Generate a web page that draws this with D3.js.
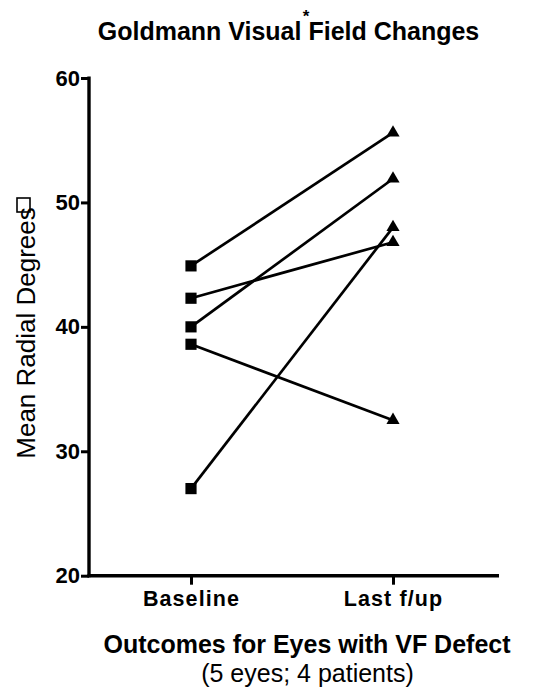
<!DOCTYPE html>
<html>
<head>
<meta charset="utf-8">
<script src="https://cdn.jsdelivr.net/npm/d3@7"></script>
<style>
  html, body { margin: 0; padding: 0; background: #fff; }
  svg text { font-family: Arial, "Liberation Sans", Helvetica, sans-serif; fill: #000; }
</style>
</head>
<body>
<svg id="chart" width="543" height="693"></svg>
<script>
// ── Data: one line per eye, baseline -> last follow-up ──────────────────────
const timepoints = ["Baseline", "Last f/up"];
const baseline   = [44.9, 42.3, 40.0, 38.6, 27.0];
const lastFollow = [55.6, 46.8, 51.9, 32.5, 48.0];
const yTicks     = [20, 30, 40, 50, 60];

const eyes = baseline.map((b, i) => [b, lastFollow[i]]);

const svg = d3.select("#chart");
const margin = { left: 89, right: 46, top: 78, bottom: 117 };
const W = 543, H = 693;
const FONT = "Arial, 'Liberation Sans', sans-serif";

const x = d3.scalePoint().domain(timepoints).range([191, 393]);
const y = d3.scaleLinear().domain([20, 60])
  .range([H - margin.bottom - 0.3, margin.top]);

// ── Axes ────────────────────────────────────────────────────────────────────
const yAxis = svg.append("g")
  .attr("transform", `translate(${margin.left},0)`)
  .call(d3.axisLeft(y).tickValues(yTicks).tickSize(8).tickPadding(1));
yAxis.select(".domain").attr("stroke-width", 3.4)
  .attr("d", `M0,${y(60) - 1.5}V${y(20) + 1.5}`);
yAxis.selectAll(".tick line").attr("stroke-width", 3);
yAxis.selectAll(".tick text")
  .attr("font-size", 22).attr("font-weight", "bold")
  .attr("font-family", FONT);

const xAxis = svg.append("g")
  .attr("transform", `translate(0,${y(20)})`)
  .call(d3.axisBottom(x).tickSize(9).tickPadding(9));
xAxis.select(".domain").attr("stroke-width", 3.4)
  .attr("d", `M${margin.left - 1.5},0H${W - margin.right + 2}`);
xAxis.selectAll(".tick line").attr("stroke-width", 3);
xAxis.selectAll(".tick text")
  .attr("y", 30.5).attr("dy", 0)
  .attr("font-size", 21.5).attr("font-weight", "bold")
  .attr("letter-spacing", 1.1)
  .attr("font-family", FONT);

// ── Lines and markers ───────────────────────────────────────────────────────
const line = d3.line().x((d, i) => x(timepoints[i])).y(d => y(d));
svg.append("g").selectAll("path")
  .data(eyes)
  .join("path")
  .attr("d", line)
  .attr("fill", "none")
  .attr("stroke", "#000")
  .attr("stroke-width", 2.7);

svg.append("g").selectAll("path")
  .data(baseline)
  .join("path")
  .attr("d", d3.symbol(d3.symbolSquare, 125))
  .attr("transform", d => `translate(${x(timepoints[0])},${y(d)})`)
  .attr("fill", "#000");

svg.append("g").selectAll("path")
  .data(lastFollow)
  .join("path")
  .attr("d", d3.symbol(d3.symbolTriangle, 75))
  .attr("transform", d => `translate(${x(timepoints[1])},${y(d)})`)
  .attr("fill", "#000");

// ── Titles ──────────────────────────────────────────────────────────────────
svg.append("text")
  .attr("x", 288.5).attr("y", 39.5)
  .attr("text-anchor", "middle")
  .attr("font-size", 25).attr("font-weight", "bold")
  .text("Goldmann Visual Field Changes");
svg.append("text")
  .attr("x", 306).attr("y", 22)
  .attr("text-anchor", "middle")
  .attr("font-size", 17).attr("font-weight", "bold")
  .text("*");

svg.append("text")
  .attr("transform", "translate(35,333) rotate(-90)")
  .attr("text-anchor", "middle")
  .attr("font-size", 26)
  .text("Mean Radial Degrees");
svg.append("rect")
  .attr("x", 17).attr("y", 198).attr("width", 13).attr("height", 14)
  .attr("fill", "none").attr("stroke", "#000").attr("stroke-width", 1.6);

svg.append("text")
  .attr("x", 307).attr("y", 653)
  .attr("text-anchor", "middle")
  .attr("font-size", 25).attr("font-weight", "bold")
  .text("Outcomes for Eyes with VF Defect");
svg.append("text")
  .attr("x", 307.5).attr("y", 681.5)
  .attr("text-anchor", "middle")
  .attr("font-size", 25)
  .text("(5 eyes; 4 patients)");
</script>
</body>
</html>
